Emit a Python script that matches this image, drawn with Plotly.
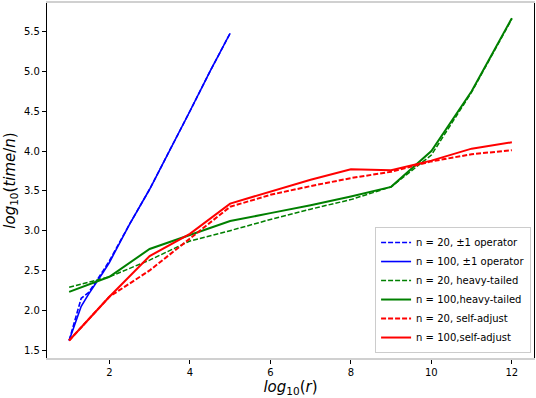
import plotly.graph_objects as go

# x = log10(r)
x_pm1 = [1, 1.3, 1.48, 1.7, 1.85, 2, 2.5, 3, 3.5, 4, 4.5, 5]
pm1_n20 = [1.62, 2.15, 2.22, 2.38, 2.5, 2.62, 3.08, 3.52, 4.0, 4.5, 5.0, 5.48]
pm1_n100 = [1.62, 2.05, 2.2, 2.36, 2.48, 2.6, 3.08, 3.52, 4.0, 4.5, 5.0, 5.48]

x_r = [1, 2, 3, 4, 5, 6, 7, 8, 9, 10, 11, 12]
heavy_n20 = [2.29, 2.42, 2.63, 2.87, 3.0, 3.14, 3.27, 3.39, 3.55, 3.95, 4.74, 5.66]
heavy_n100 = [2.23, 2.42, 2.77, 2.95, 3.12, 3.22, 3.32, 3.43, 3.55, 4.0, 4.75, 5.67]
self_n20 = [1.62, 2.17, 2.5, 2.9, 3.3, 3.45, 3.56, 3.66, 3.74, 3.87, 3.96, 4.01]
self_n100 = [1.62, 2.17, 2.68, 2.96, 3.34, 3.49, 3.64, 3.77, 3.76, 3.88, 4.03, 4.11]

series = [
    ("n = 20, \u00b11 operator", x_pm1, pm1_n20, "blue", 1.6, "dash"),
    ("n = 100, \u00b11 operator", x_pm1, pm1_n100, "blue", 1.6, "solid"),
    ("n = 20, heavy-tailed", x_r, heavy_n20, "green", 1.5, "dash"),
    ("n = 100,heavy-tailed", x_r, heavy_n100, "green", 2, "solid"),
    ("n = 20, self-adjust", x_r, self_n20, "red", 2, "dash"),
    ("n = 100,self-adjust", x_r, self_n100, "red", 2, "solid"),
]

fig = go.Figure()
for name, xs, ys, col, w, dash in series:
    d = "5px,2px" if dash == "dash" else "solid"
    fig.add_trace(go.Scatter(x=xs, y=ys, mode="lines", name=name,
                             line=dict(color=col, width=w, dash=d)))

font = "DejaVu Sans, sans-serif"
fig.update_layout(
    width=536, height=398,
    margin=dict(l=47, r=1, t=1, b=40),
    paper_bgcolor="white", plot_bgcolor="white",
    font=dict(family=font, size=10, color="black"),
    showlegend=True,
    legend=dict(x=0.994, y=0.014, xanchor="right", yanchor="bottom",
                bgcolor="white", bordercolor="#cccccc", borderwidth=1,
                font=dict(size=10), tracegroupgap=0),
    xaxis=dict(range=[0.45, 12.55], tickvals=[2, 4, 6, 8, 10, 12],
               showgrid=False, zeroline=False,
               showline=True, linecolor="#d0d0d0", linewidth=1.5, mirror=True,
               ticks="outside", ticklen=4, tickcolor="black",
               title=dict(text="<i>log</i><sub>10</sub>(<i>r</i>)",
                          font=dict(size=15), standoff=3)),
    yaxis=dict(range=[1.4, 5.86], tickvals=[1.5, 2.0, 2.5, 3.0, 3.5, 4.0, 4.5, 5.0, 5.5],
               ticktext=["1.5", "2.0", "2.5", "3.0", "3.5", "4.0", "4.5", "5.0", "5.5"],
               showgrid=False, zeroline=False,
               showline=True, linecolor="black", linewidth=1.2, mirror=True,
               ticks="outside", ticklen=4, tickcolor="black",
               title=dict(text="<i>log</i><sub>10</sub>(<i>time</i>/<i>n</i>)",
                          font=dict(size=15), standoff=4)),
)

# drop the page's default body margin so the figure sits at the window corner
fig.write_html("out.html", config={"displayModeBar": False},
               post_script="document.body.style.margin='0px';")
